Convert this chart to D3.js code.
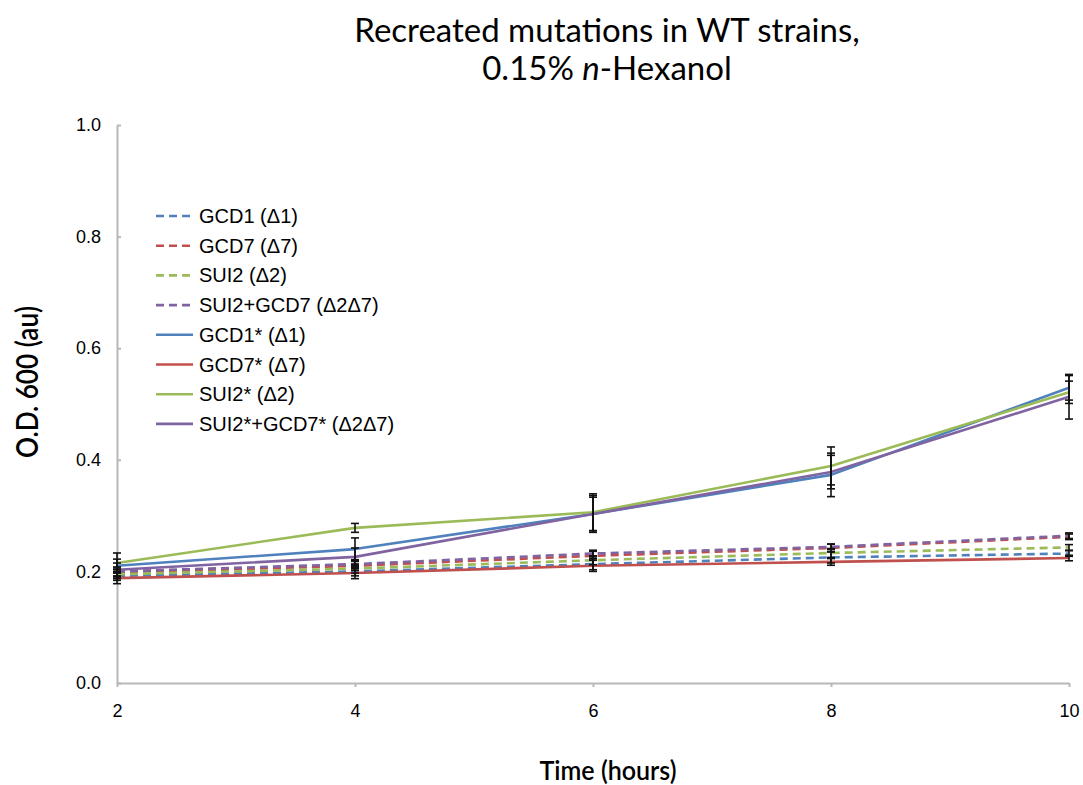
<!DOCTYPE html>
<html>
<head>
<meta charset="utf-8">
<script src="https://cdn.jsdelivr.net/npm/d3@7"></script>
<style>
  body { margin: 0; background: #fff; }
  svg { display: block; }
</style>
</head>
<body>
<svg id="chart" width="1083" height="785"></svg>
<script>
// Time points (hours)
const hours = [2, 4, 6, 8, 10];

// Series names, in legend order
const seriesNames = [
  "GCD1 (Δ1)", "GCD7 (Δ7)", "SUI2 (Δ2)", "SUI2+GCD7 (Δ2Δ7)",
  "GCD1* (Δ1)", "GCD7* (Δ7)", "SUI2* (Δ2)", "SUI2*+GCD7* (Δ2Δ7)"
];

// O.D. 600 readings per series
const gcd1 =        [0.192, 0.200, 0.213, 0.225, 0.232];
const gcd7 =        [0.198, 0.210, 0.228, 0.242, 0.262];
const sui2 =        [0.195, 0.205, 0.220, 0.233, 0.243];
const sui2gcd7 =    [0.200, 0.213, 0.232, 0.244, 0.264];
const gcd1Star =    [0.210, 0.240, 0.303, 0.373, 0.529];
const gcd7Star =    [0.188, 0.197, 0.210, 0.217, 0.224];
const sui2Star =    [0.215, 0.278, 0.306, 0.389, 0.521];
const sui2gcd7Star= [0.203, 0.226, 0.303, 0.378, 0.513];

// Standard deviations per series
const gcd1Err =        [0.008, 0.008, 0.010, 0.010, 0.005];
const gcd7Err =        [0.008, 0.008, 0.008, 0.007, 0.005];
const sui2Err =        [0.008, 0.008, 0.008, 0.008, 0.005];
const sui2gcd7Err =    [0.008, 0.008, 0.006, 0.005, 0.005];
const gcd1StarErr =    [0.012, 0.020, 0.033, 0.039, 0.022];
const gcd7StarErr =    [0.010, 0.010, 0.010, 0.006, 0.005];
const sui2StarErr =    [0.018, 0.008, 0.033, 0.034, 0.020];
const sui2gcd7StarErr= [0.012, 0.016, 0.030, 0.030, 0.040];

const values = [gcd1, gcd7, sui2, sui2gcd7, gcd1Star, gcd7Star, sui2Star, sui2gcd7Star];
const errors = [gcd1Err, gcd7Err, sui2Err, sui2gcd7Err, gcd1StarErr, gcd7StarErr, sui2StarErr, sui2gcd7StarErr];
const dashed = [true, true, true, true, false, false, false, false];
const colors = ["#4f81bd", "#c0504d", "#9bbb59", "#8064a2", "#4f81bd", "#c0504d", "#9bbb59", "#8064a2"];

const yTicks = [0.0, 0.2, 0.4, 0.6, 0.8, 1.0];
const xTicks = [2, 4, 6, 8, 10];

const svg = d3.select("#chart");
const plotLeft = 117, plotRight = 1069, plotTop = 125, plotBottom = 683;

const x = d3.scaleLinear().domain([2, 10]).range([plotLeft, plotRight]);
const y = d3.scaleLinear().domain([0, 1]).range([plotBottom, plotTop]);

const titleFont = "'Gill Sans', 'Gill Sans MT', Lato, sans-serif";
const labelFont = "'Liberation Sans', Arial, sans-serif";

// Title
const title = svg.append("text")
  .attr("x", 607).attr("text-anchor", "middle")
  .style("font-family", titleFont).style("font-size", "33px").attr("fill", "#000");
title.append("tspan").attr("x", 607).attr("y", 42).text("Recreated mutations in WT strains,");
const t2 = title.append("tspan").attr("x", 607).attr("y", 80);
t2.append("tspan").text("0.15% ");
t2.append("tspan").style("font-style", "italic").text("n");
t2.append("tspan").text("-Hexanol");

// Axes
const yAxis = d3.axisLeft(y).tickValues(yTicks).tickFormat(d3.format(".1f")).tickSizeInner(-4).tickSizeOuter(0).tickPadding(16);
const xAxis = d3.axisBottom(x).tickValues(xTicks).tickFormat(d3.format("d")).tickSizeInner(4).tickSizeOuter(0).tickPadding(17);

const gy = svg.append("g").attr("transform", `translate(${plotLeft},0)`).call(yAxis);
const gx = svg.append("g").attr("transform", `translate(0,${plotBottom})`).call(xAxis);
[gx, gy].forEach(g => {
  g.select(".domain").attr("stroke", "#b8b8b8").attr("stroke-width", 2);
  g.selectAll(".tick line").attr("stroke", "#b8b8b8").attr("stroke-width", 2);
  g.selectAll(".tick text").style("font-family", labelFont).style("font-size", "18px").attr("fill", "#000");
});

// Axis titles (narrow, tall lettering)
svg.append("text")
  .attr("transform", `translate(38,382) rotate(-90)`)
  .attr("text-anchor", "middle")
  .attr("textLength", 152).attr("lengthAdjust", "spacingAndGlyphs")
  .style("font-family", titleFont).style("font-size", "30px").style("font-weight", "600")
  .text("O.D. 600 (au)");
svg.append("text")
  .attr("x", 608).attr("y", 780).attr("text-anchor", "middle")
  .attr("textLength", 137).attr("lengthAdjust", "spacingAndGlyphs")
  .style("font-family", titleFont).style("font-size", "27px").style("font-weight", "600")
  .text("Time (hours)");

// Lines
const line = d3.line().x((d, i) => x(hours[i])).y(d => y(d));
const plot = svg.append("g");
seriesNames.forEach((name, s) => {
  plot.append("path")
    .datum(values[s])
    .attr("d", line)
    .attr("fill", "none")
    .attr("stroke", colors[s])
    .attr("stroke-width", 2.6)
    .attr("stroke-dasharray", dashed[s] ? "8,5" : null)
    .attr("stroke-linejoin", "round");
});

// Error bars
const bars = svg.append("g").attr("stroke", "#111").attr("stroke-width", 1.6);
seriesNames.forEach((name, s) => {
  values[s].forEach((v, i) => {
    const cx = x(hours[i]), e = errors[s][i];
    const y0 = y(v - e), y1 = y(v + e);
    bars.append("line").attr("x1", cx).attr("x2", cx).attr("y1", y0).attr("y2", y1);
    bars.append("line").attr("x1", cx - 4).attr("x2", cx + 4).attr("y1", y0).attr("y2", y0);
    bars.append("line").attr("x1", cx - 4).attr("x2", cx + 4).attr("y1", y1).attr("y2", y1);
  });
});

// Legend
const legend = svg.append("g");
seriesNames.forEach((name, s) => {
  const ly = 216 + s * 29.7;
  legend.append("line")
    .attr("x1", 156).attr("x2", 193).attr("y1", ly).attr("y2", ly)
    .attr("stroke", colors[s]).attr("stroke-width", 2.6)
    .attr("stroke-dasharray", dashed[s] ? "8,5" : null);
  legend.append("text")
    .attr("x", 199).attr("y", ly + 7)
    .style("font-family", labelFont).style("font-size", "20px").attr("fill", "#000")
    .text(name);
});
</script>
</body>
</html>
